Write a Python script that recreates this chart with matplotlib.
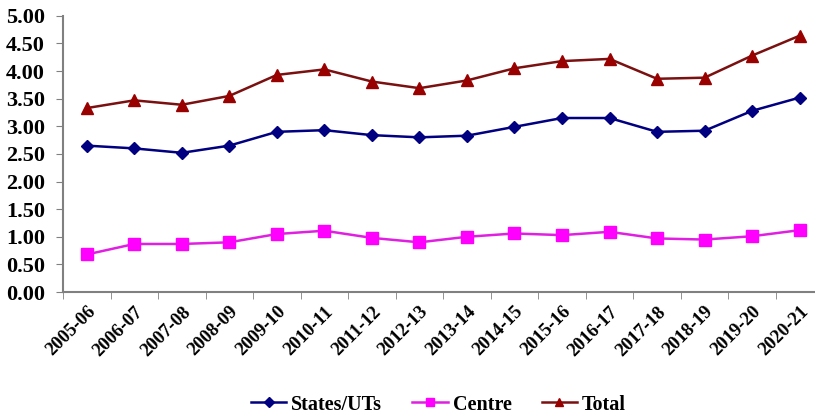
import matplotlib
matplotlib.use("Agg")
import matplotlib.pyplot as plt
import numpy as np

# Expenditure series by year
years = ["2005-06", "2006-07", "2007-08", "2008-09", "2009-10", "2010-11",
         "2011-12", "2012-13", "2013-14", "2014-15", "2015-16", "2016-17",
         "2017-18", "2018-19", "2019-20", "2020-21"]
states = [2.65, 2.60, 2.52, 2.65, 2.90, 2.93, 2.84, 2.80, 2.83, 2.99, 3.15, 3.15,
          2.90, 2.92, 3.28, 3.52]
centre = [0.68, 0.87, 0.87, 0.90, 1.05, 1.11, 0.98, 0.90, 1.00, 1.06, 1.03, 1.09,
          0.97, 0.95, 1.01, 1.12]
total = [3.33, 3.47, 3.39, 3.55, 3.93, 4.03, 3.81, 3.69, 3.83, 4.05, 4.18, 4.22,
         3.86, 3.88, 4.28, 4.64]

plt.rcParams['font.family'] = ['Liberation Serif', 'DejaVu Serif']
plt.rcParams['font.weight'] = 'bold'

fig = plt.figure(figsize=(8.15, 4.16), dpi=100)
ax = fig.add_axes([0.0773, 0.298, 0.933, 0.664])

x = np.arange(len(years))
ax.plot(x, states, color='#000080', lw=1.8, marker='D', ms=6.5, label='States/UTs')
ax.plot(x, centre, color='#E020E0', lw=1.8, marker='s', ms=8, mfc='#FF00FF',
        mec='#FF00FF', label='Centre')
ax.plot(x, total, color='#7A1010', lw=1.8, marker='^', ms=8, mfc='#990000',
        mec='#990000', label='Total')

ax.set_xlim(-0.5, len(years) - 0.5)
ax.set_ylim(0, 5)
ax.set_yticks(np.arange(0, 5.01, 0.5))
ax.set_yticklabels([f"{v:.2f}" for v in np.arange(0, 5.01, 0.5)], fontsize=16,
                   fontweight='bold')

# category labels at points, tick marks between categories
ax.set_xticks(x)
ax.set_xticklabels(years, rotation=45, ha='right', rotation_mode='anchor',
                   fontsize=13.5, fontweight='bold')
ax.tick_params(axis='x', length=0, pad=8)
ax.set_xticks(np.arange(-0.5, len(years), 1), minor=True)
ax.tick_params(axis='x', which='minor', length=5, color='#808080', direction='out')
ax.tick_params(axis='y', length=5, color='#808080', pad=8)

for s in ['top', 'right']:
    ax.spines[s].set_visible(False)
for s in ['left', 'bottom']:
    ax.spines[s].set_color('#808080')
    ax.spines[s].set_linewidth(1.5)

fig.legend(loc='lower center', bbox_to_anchor=(0.538, -0.04), ncol=3, frameon=False,
           prop={'size': 14.5, 'weight': 'bold'}, handlelength=1.75, columnspacing=1.5,
           handletextpad=0.25, markerscale=0.8)

fig.savefig("out.png", dpi=100)
